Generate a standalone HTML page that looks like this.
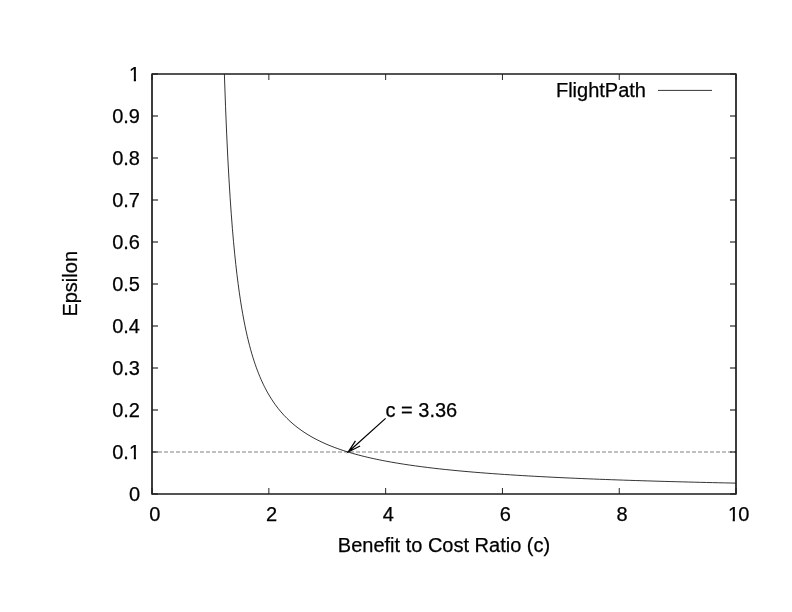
<!DOCTYPE html>
<html><head><meta charset="utf-8"><title>FlightPath</title>
<style>
html,body{margin:0;padding:0;background:#fff;}
svg{display:block}
text{font-family:"Liberation Sans",sans-serif;font-size:20px;fill:#000;stroke:#000;stroke-width:0.25px;stroke-linejoin:round}
</style></head><body>
<svg width="792" height="612" viewBox="0 0 792 612">
<defs><clipPath id="c1" clipPathUnits="userSpaceOnUse"><path d="M-2 -17H13V-1.95H6.95V2H4.75V-1.95H-2Z"/></clipPath></defs>
<rect width="792" height="612" fill="#fff"/>
<polyline points="224.38,74.15 225.53,106.34 226.67,133.95 227.81,157.89 228.96,178.84 230.10,197.34 231.25,213.78 232.39,228.50 233.53,241.76 234.68,253.75 235.82,264.65 236.97,274.61 238.11,283.74 239.25,292.14 240.40,299.89 241.54,307.08 242.69,313.75 243.83,319.96 244.98,325.75 246.12,331.18 247.26,336.26 248.41,341.04 249.55,345.54 250.70,349.78 251.84,353.78 252.98,357.57 254.13,361.16 255.27,364.57 256.42,367.80 257.56,370.88 258.70,373.81 259.85,376.61 260.99,379.28 262.14,381.83 263.28,384.27 264.42,386.60 265.57,388.84 266.71,390.99 267.86,393.05 269.00,395.03 271.99,399.87 274.99,404.25 277.98,408.25 280.98,411.90 283.97,415.26 286.97,418.35 289.96,421.21 292.96,423.86 295.95,426.33 298.95,428.63 301.94,430.78 304.94,432.79 307.93,434.68 310.93,436.45 313.92,438.13 316.92,439.70 319.91,441.20 322.91,442.61 325.90,443.95 328.90,445.22 331.89,446.43 334.89,447.58 337.88,448.67 340.88,449.72 343.87,450.72 346.87,451.67 349.86,452.58 352.86,453.46 355.85,454.30 358.85,455.10 361.84,455.88 364.84,456.62 367.83,457.33 370.83,458.02 373.82,458.69 376.82,459.32 379.81,459.94 382.81,460.54 385.80,461.11 391.74,462.19 397.68,463.21 403.62,464.16 409.56,465.06 415.49,465.90 421.43,466.69 427.37,467.45 433.31,468.16 439.25,468.83 445.19,469.47 451.13,470.08 457.07,470.66 463.01,471.22 468.95,471.74 474.88,472.25 480.82,472.73 486.76,473.19 492.70,473.63 498.64,474.05 504.58,474.46 510.52,474.85 516.46,475.22 522.40,475.58 528.34,475.93 534.27,476.27 540.21,476.59 546.15,476.90 552.09,477.20 558.03,477.49 563.97,477.77 569.91,478.04 575.85,478.30 581.79,478.56 587.73,478.80 593.66,479.04 599.60,479.27 605.54,479.49 611.48,479.71 617.42,479.92 623.36,480.13 629.30,480.32 635.24,480.52 641.18,480.71 647.12,480.89 653.05,481.07 658.99,481.24 664.93,481.41 670.87,481.57 676.81,481.73 682.75,481.89 688.69,482.04 694.63,482.19 700.57,482.34 706.51,482.48 712.44,482.62 718.38,482.75 724.32,482.88 730.26,483.01 736.20,483.14" fill="none" stroke="#000" stroke-width="0.8"/>
<line x1="152.0" y1="452.0" x2="736.0" y2="452.0" stroke="#000" stroke-width="0.5" stroke-dasharray="4 2"/>
<path d="M152.0 494.0h6M736.0 494.0h-6M152.0 452.0h6M736.0 452.0h-6M152.0 410.0h6M736.0 410.0h-6M152.0 368.0h6M736.0 368.0h-6M152.0 326.0h6M736.0 326.0h-6M152.0 284.0h6M736.0 284.0h-6M152.0 242.0h6M736.0 242.0h-6M152.0 200.0h6M736.0 200.0h-6M152.0 158.0h6M736.0 158.0h-6M152.0 116.0h6M736.0 116.0h-6M152.0 74.0h6M736.0 74.0h-6" fill="none" stroke="#000" stroke-width="1.1"/>
<path d="M152.05 494.0v-6M152.05 74.0v6M268.85 494.0v-6M268.85 74.0v6M385.65 494.0v-6M385.65 74.0v6M502.45 494.0v-6M502.45 74.0v6M619.25 494.0v-6M619.25 74.0v6M736.05 494.0v-6M736.05 74.0v6" fill="none" stroke="#000" stroke-width="0.85"/>
<rect x="152.0" y="74.0" width="584.0" height="420.0" fill="none" stroke="#1c1c1c" stroke-width="1.7" stroke-linejoin="round"/>
<text x="140" y="500.9" text-anchor="end">0</text>
<text x="128.88" y="458.9" text-anchor="end">0.</text>
<g transform="translate(129.03,458.90)"><text x="0" y="0" clip-path="url(#c1)">1</text></g>
<text x="140" y="416.9" text-anchor="end">0.2</text>
<text x="140" y="374.9" text-anchor="end">0.3</text>
<text x="140" y="332.9" text-anchor="end">0.4</text>
<text x="140" y="290.9" text-anchor="end">0.5</text>
<text x="140" y="248.9" text-anchor="end">0.6</text>
<text x="140" y="206.9" text-anchor="end">0.7</text>
<text x="140" y="164.9" text-anchor="end">0.8</text>
<text x="140" y="122.9" text-anchor="end">0.9</text>
<g transform="translate(129.03,80.90)"><text x="0" y="0" clip-path="url(#c1)">1</text></g>
<text x="154.8" y="521" text-anchor="middle">0</text>
<text x="271.6" y="521" text-anchor="middle">2</text>
<text x="388.4" y="521" text-anchor="middle">4</text>
<text x="505.2" y="521" text-anchor="middle">6</text>
<text x="622.0" y="521" text-anchor="middle">8</text>
<g transform="translate(727.93,521.00)"><text x="0" y="0" clip-path="url(#c1)">1</text></g>
<text x="738.30" y="521">0</text>
<text x="444" y="551.5" text-anchor="middle">Benefit to Cost Ratio (c)</text>
<text transform="translate(76.5,283.8) rotate(-90)" text-anchor="middle">Epsilon</text>
<text x="646" y="97" text-anchor="end">FlightPath</text>
<line x1="658" y1="90.4" x2="712" y2="90.4" stroke="#000" stroke-width="0.8"/>
<text x="385.5" y="416.8">c = 3.36</text>
<path d="M385.60 418.40L348.22 452.00M360.08 445.97L348.22 452.00L355.48 440.85" fill="none" stroke="#000" stroke-width="1.25"/>
</svg></body></html>
